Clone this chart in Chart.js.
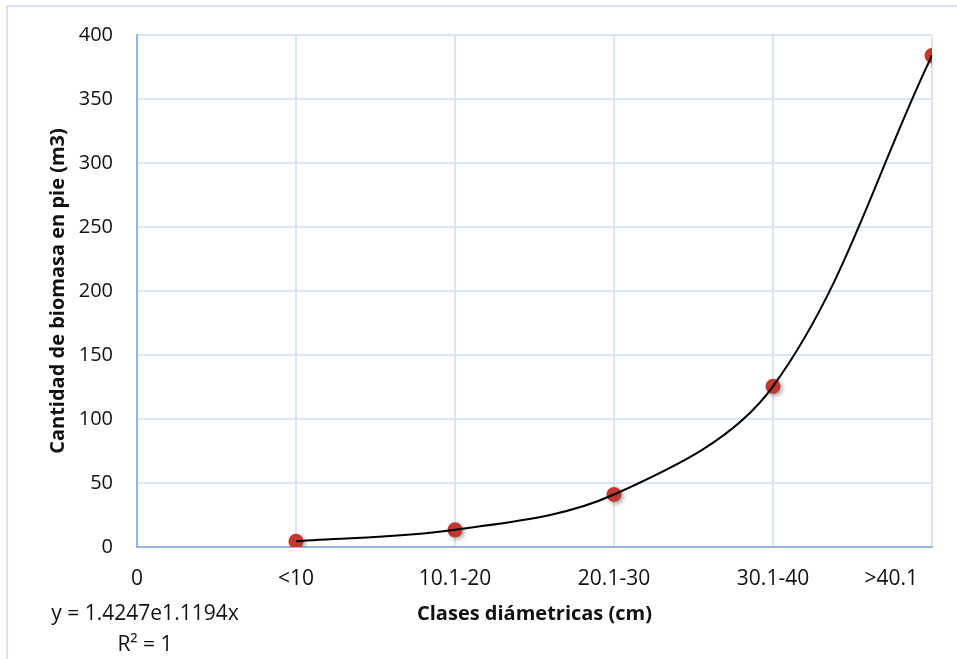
<!DOCTYPE html>
<html>
<head>
<meta charset="utf-8">
<script src="https://cdn.jsdelivr.net/npm/chart.js@4/dist/chart.umd.min.js"></script>
<style>
  html, body { margin: 0; padding: 0; background: #fff; overflow: hidden; }
  #wrap { position: relative; width: 957px; height: 659px; }
  #frame { position: absolute; left: 6px; top: 5px; width: 980px; height: 700px;
           border: 2px solid #d9e5f4; box-sizing: border-box; }
  #chart { position: absolute; left: 0; top: 0; }
</style>
</head>
<body>
<div id="wrap">
  <div id="frame"></div>
  <canvas id="chart" width="957" height="659"></canvas>
</div>
<script>
const categories = ['0', '<10', '10.1-20', '20.1-30', '30.1-40', '>40.1'];
const classIndex = [1, 2, 3, 4, 5];
const biomass = [4.4, 13.4, 41, 125.5, 384];
const equationLines = ['y = 1.4247e1.1194x', 'R\u00B2 = 1'];

const points = classIndex.map((x, i) => ({ x: x, y: biomass[i] }));
const textColor = '#111';
const gridColor = '#dbe6f4';
const axisColor = '#92b5e2';

// x labels drawn by hand so the last one stays inside the frame
const xLabels = {
  id: 'xLabels',
  afterDraw(chart) {
    const { ctx, scales: { x } } = chart;
    ctx.save();
    ctx.font = '21px "Open Sans"';
    ctx.fillStyle = textColor;
    ctx.textAlign = 'center';
    ctx.textBaseline = 'middle';
    categories.forEach((label, i) => {
      let px = x.getPixelForValue(i);
      const w = ctx.measureText(label).width;
      if (px + w / 2 > x.right - 14) px = x.right - 14 - w / 2;
      ctx.fillText(label, px, x.top + 32);
    });
    // trendline equation
    ctx.fillText(equationLines[0], 145, 614);
    ctx.fillText(equationLines[1], 145, 645);
    ctx.restore();
  }
};

const markerShadow = {
  id: 'markerShadow',
  beforeDatasetDraw(chart, args) {
    if (args.index !== 0) return;
    const ctx = chart.ctx;
    ctx.save();
    ctx.shadowColor = 'rgba(0,0,0,0.35)';
    ctx.shadowBlur = 4;
    ctx.shadowOffsetX = 2;
    ctx.shadowOffsetY = 2;
  },
  afterDatasetDraw(chart, args) {
    if (args.index !== 0) return;
    chart.ctx.restore();
  }
};

new Chart(document.getElementById('chart'), {
  type: 'scatter',
  data: {
    datasets: [
      {
        label: 'Biomasa',
        data: points,
        showLine: false,
        pointRadius: 7.5,
        pointHoverRadius: 7.5,
        pointBackgroundColor: '#c0392f',
        pointBorderWidth: 0,
        order: 1
      },
      {
        label: 'Tendencia',
        data: points,
        showLine: true,
        borderColor: '#000',
        borderWidth: 2,
        pointRadius: 0,
        tension: 0.35,
        fill: false,
        order: 0
      }
    ]
  },
  options: {
    responsive: false,
    animation: false,
    layout: { padding: { top: 35, right: 25, bottom: 0, left: 0 } },
    plugins: {
      legend: { display: false },
      tooltip: { enabled: false }
    },
    scales: {
      x: {
        type: 'linear',
        min: 0,
        max: 5,
        ticks: { stepSize: 1, display: false },
        grid: { color: gridColor, lineWidth: 2, drawTicks: false },
        border: { color: axisColor, width: 2 },
        title: {
          display: true,
          text: 'Clases diámetricas (cm)',
          color: textColor,
          font: { family: 'Open Sans', size: 20, weight: 'bold' },
          padding: { top: 0, bottom: 33 }
        },
        afterFit(s) {
          s.height = 112;
          s.paddingLeft = 0;
          s.paddingRight = 0;
        }
      },
      y: {
        min: 0,
        max: 400,
        ticks: {
          stepSize: 50,
          color: textColor,
          padding: 24,
          font: { family: 'Open Sans', size: 20 }
        },
        grid: { color: gridColor, lineWidth: 2, drawTicks: false },
        border: { color: axisColor, width: 2 },
        title: {
          display: true,
          text: 'Cantidad de biomasa en pie (m3)',
          color: textColor,
          font: { family: 'Open Sans', size: 20, weight: 'bold' },
          padding: { top: 46, bottom: 0 }
        },
        afterFit(s) {
          s.width = 137;
          s.paddingTop = 0;
          s.paddingBottom = 0;
        }
      }
    }
  },
  plugins: [xLabels, markerShadow]
});
</script>
</body>
</html>
